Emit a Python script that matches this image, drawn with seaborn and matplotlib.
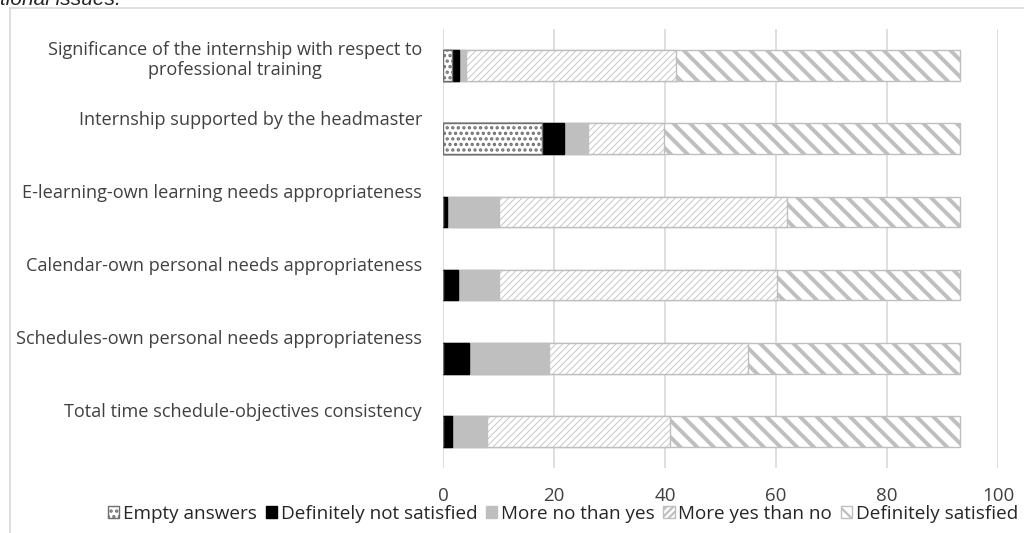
import numpy as np
import pandas as pd
import seaborn as sns
import matplotlib.pyplot as plt
import matplotlib.patches as mpatches
from matplotlib.transforms import ScaledTranslation

categories = [
    "Significance of the internship with respect to\nprofessional training",
    "Internship supported by the headmaster",
    "E-learning-own learning needs appropriateness",
    "Calendar-own personal needs appropriateness",
    "Schedules-own personal needs appropriateness",
    "Total time schedule-objectives consistency",
]
series = ["Empty answers", "Definitely not satisfied", "More no than yes",
          "More yes than no", "Definitely satisfied"]

empty_answers = [1.6, 17.9, 0.0, 0.0, 0.0, 0.0]
def_not_satisfied = [1.2, 3.9, 0.8, 2.7, 4.7, 1.7]
more_no_than_yes = [1.3, 4.3, 9.2, 7.3, 14.4, 6.2]
more_yes_than_no = [37.8, 13.8, 51.9, 50.1, 35.8, 33.0]
def_satisfied = [51.2, 53.2, 31.2, 33.0, 38.2, 52.2]

x_ticks = [0, 20, 40, 60, 80, 100]

df = pd.DataFrame({
    "category": categories,
    series[0]: empty_answers,
    series[1]: def_not_satisfied,
    series[2]: more_no_than_yes,
    series[3]: more_yes_than_no,
    series[4]: def_satisfied,
})
cum = df[series].cumsum(axis=1)

styles = {
    "Empty answers": dict(face="white", edge="#6F6F6F", hatch="...", lw=1.6),
    "Definitely not satisfied": dict(face="black", edge="black", hatch=None, lw=1.0),
    "More no than yes": dict(face="#BFBFBF", edge="#BFBFBF", hatch=None, lw=1.0),
    "More yes than no": dict(face="white", edge="#BFBFBF", hatch="/////", lw=0.6),
    "Definitely satisfied": dict(face="white", edge="#BFBFBF", hatch="\\\\", lw=2.8),
}

sns.set_style("white")
plt.rcParams["font.family"] = ["Open Sans", "DejaVu Sans"]

fig = plt.figure(figsize=(10.24, 5.33), dpi=100)
ax = fig.add_axes([443 / 1024, 1 - 468 / 533, (998 - 443) / 1024, (468 - 29) / 533])

# stacked bars: draw cumulative totals from the longest to the shortest
for s in reversed(series):
    st = styles[s]
    plt.rcParams["hatch.linewidth"] = st["lw"]
    n_before = len(ax.patches)
    sns.barplot(x=cum[s], y=df["category"], order=categories, orient="h",
                color=st["face"], width=0.42, ax=ax, saturation=1)
    for p in ax.patches[n_before:]:
        p.set_facecolor(st["face"])
        p.set_edgecolor(st["edge"])
        p.set_linewidth(1.0)
        if st["hatch"]:
            p.set_hatch(st["hatch"])
            if hasattr(p, "set_hatch_linewidth"):
                p.set_hatch_linewidth(st["lw"])

ax.set_xlim(0, 100)
ax.set_xticks(x_ticks)
ax.set_xticklabels([str(t) for t in x_ticks], fontsize=13.5, color="#404040")
ax.tick_params(axis="x", length=0, pad=14)
ax.tick_params(axis="y", length=0, pad=15)
ax.set_xlabel("")
ax.set_ylabel("")
ax.xaxis.grid(True, color="#D9D9D9", linewidth=1.2)
ax.set_axisbelow(True)
for sp in ax.spines.values():
    sp.set_visible(False)

for lbl in ax.get_yticklabels():
    lbl.set_fontsize(13.1)
    lbl.set_color("#404040")
    lbl.set_multialignment("center")
    dy = 9 if "\n" in lbl.get_text() else 21
    lbl.set_transform(lbl.get_transform() + ScaledTranslation(0, dy / 100, fig.dpi_scale_trans))

handles = []
for s in series:
    st = styles[s]
    handles.append(mpatches.Patch(facecolor=st["face"], edgecolor=st["edge"],
                                  hatch=st["hatch"], label=s))
fig.legend(handles=handles, loc="center", bbox_to_anchor=(563 / 1024, 1 - 514 / 533),
           ncol=5, frameon=False, fontsize=13.6, handlelength=0.6, handleheight=0.6,
           handletextpad=0.2, columnspacing=0.45, borderaxespad=0)

# chart frame and cropped caption
fig.add_artist(plt.Line2D([10 / 1024, 10 / 1024], [0, 1 - 8 / 533], transform=fig.transFigure,
                          color="#D9D9D9", linewidth=1.2))
fig.add_artist(plt.Line2D([10 / 1024, 1], [1 - 8 / 533, 1 - 8 / 533], transform=fig.transFigure,
                          color="#D9D9D9", linewidth=1.2))
fig.text(0, 1 - 5 / 533, "tional issues.", fontsize=15, style="italic",
         family="Liberation Sans", va="baseline", ha="left")

fig.savefig("out.png", dpi=100)
